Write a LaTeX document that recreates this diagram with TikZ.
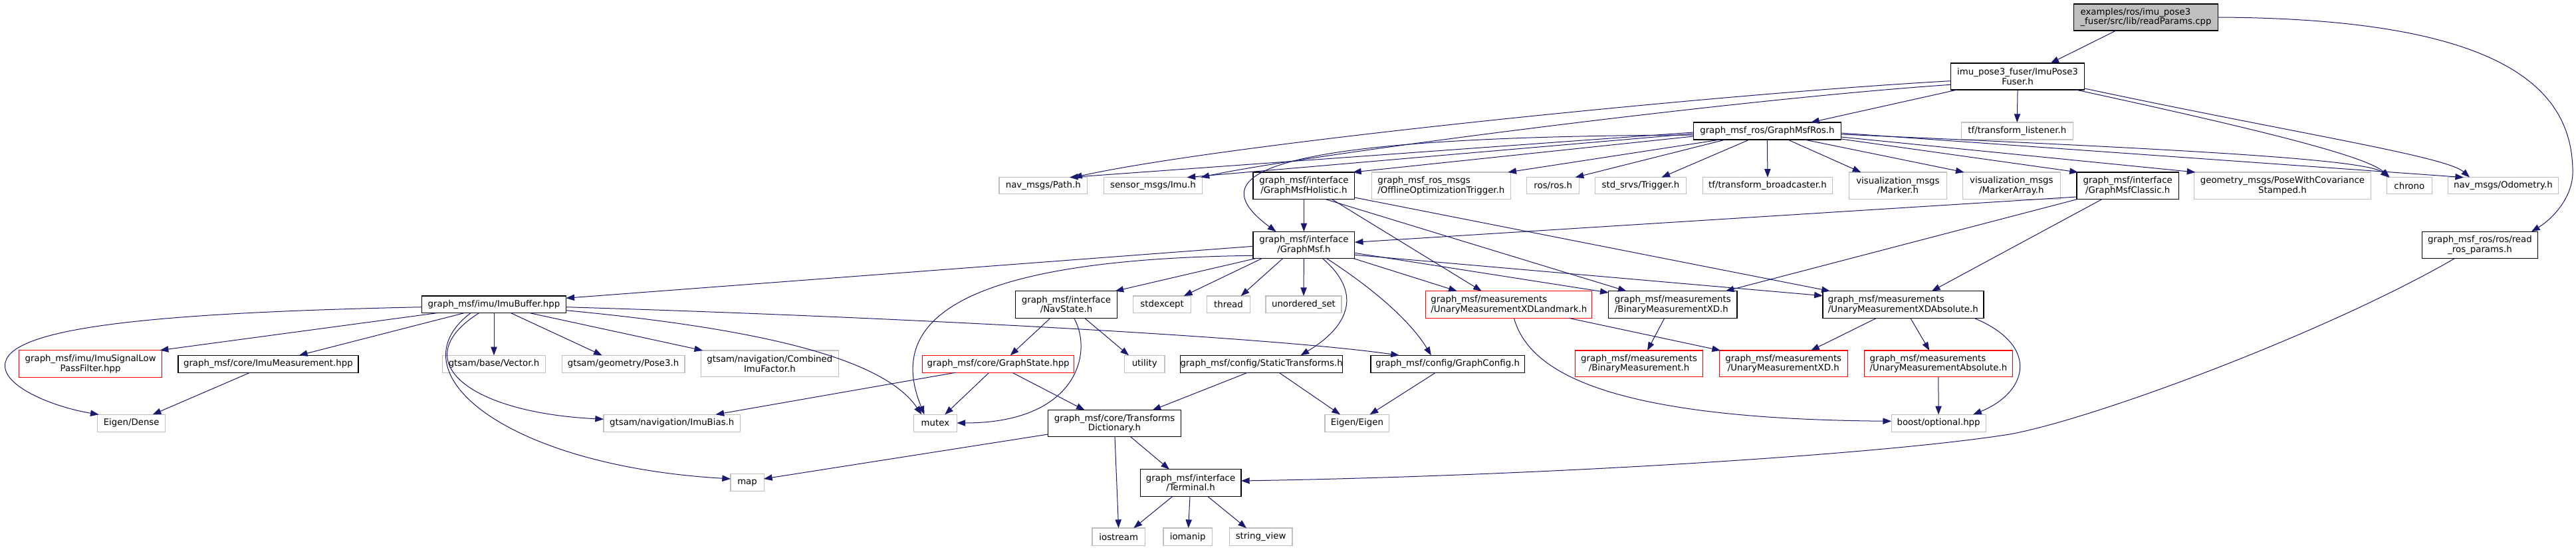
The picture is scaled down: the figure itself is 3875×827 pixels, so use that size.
\documentclass[tikz,border=0pt]{standalone}
\usepackage{fontspec}
\setmainfont{DejaVu Sans}
\usetikzlibrary{arrows.meta}
\definecolor{edgeblue}{HTML}{191970}
\definecolor{extgrey}{HTML}{BFBFBF}
\newcommand\gbox[7]{%
  \pgfmathsetmacro\gbcx{(#3+#4)/2}%
  \pgfmathsetmacro\gbcy{(#5+#6)/2}%
  \pgfmathsetmacro\gbw{(#4-#3)*0.75}%
  \pgfmathsetmacro\gbh{(#6-#5)*0.75}%
  \node[#2,minimum width=\gbw pt,minimum height=\gbh pt] (#1) at (\gbcx,\gbcy) {#7};}
\begin{document}
\begin{tikzpicture}[x=0.75pt,y=-0.75pt,
  every node/.style={font=\fontsize{10}{11}\selectfont, inner sep=0pt, outer sep=0pt, fill=white},
  docnode/.style={draw=black,line width=1pt},
  extnode/.style={draw=extgrey,line width=0.8pt},
  trnode/.style={draw=red,line width=0.8pt},
  rootnode/.style={draw=black,fill=extgrey,line width=1pt},
  two/.style={align=center},
  twol/.style={align=left},
  dep/.style={draw=edgeblue,line width=0.75pt,-{Triangle[length=9.5pt,width=7pt]}}]
\useasboundingbox (0,0) rectangle (3875,827);
\fill[white] (0,0) rectangle (3875,827);
% nodes
\gbox{root}{rootnode,twol}{3119.5}{3336.5}{6}{46}{examples/ros/imu\_pose3\\\_fuser/src/lib/readParams.cpp}
\gbox{imupose}{docnode,two}{2934.6}{3135.5}{95}{135}{imu\_pose3\_fuser/ImuPose3\\Fuser.h}
\gbox{rosnode}{docnode}{2547.4}{2769.4}{184}{210}{graph\_msf\_ros/GraphMsfRos.h}
\gbox{tfl}{extnode}{2950.5}{3118}{184}{210}{tf/transform\_listener.h}
\gbox{path}{extnode}{1503}{1635.6}{266.7}{291.7}{nav\_msgs/Path.h}
\gbox{imu}{extnode}{1660.5}{1808.4}{266.7}{291.7}{sensor\_msgs/Imu.h}
\gbox{holistic}{docnode,two}{1885}{2037.8}{259}{299.3}{graph\_msf/interface\\/GraphMsfHolistic.h}
\gbox{offline}{extnode,twol}{2063.3}{2272.4}{259}{299.3}{graph\_msf\_ros\_msgs\\/OfflineOptimizationTrigger.h}
\gbox{ros}{extnode}{2296.7}{2375.8}{266.7}{291.7}{ros/ros.h}
\gbox{trig}{extnode}{2399.4}{2536.5}{266.7}{291.7}{std\_srvs/Trigger.h}
\gbox{brd}{extnode}{2561.4}{2756.5}{266.7}{291.7}{tf/transform\_broadcaster.h}
\gbox{marker}{extnode,two}{2781.4}{2928.4}{259}{299.3}{visualization\_msgs\\/Marker.h}
\gbox{markerarr}{extnode,two}{2952.6}{3099}{259}{299.3}{visualization\_msgs\\/MarkerArray.h}
\gbox{classic}{docnode,two}{3123.9}{3277.5}{259}{299.3}{graph\_msf/interface\\/GraphMsfClassic.h}
\gbox{posecov}{extnode,two}{3300.4}{3566.4}{259}{299.3}{geometry\_msgs/PoseWithCovariance\\Stamped.h}
\gbox{chrono}{extnode}{3590.6}{3658}{266.7}{291.7}{chrono}
\gbox{odom}{extnode}{3682}{3848.8}{266.7}{291.7}{nav\_msgs/Odometry.h}
\gbox{graphmsf}{docnode,two}{1885}{2037.8}{348.3}{388.3}{graph\_msf/interface\\/GraphMsf.h}
\gbox{rrp}{docnode,two}{3643.5}{3817.4}{348.3}{388.3}{graph\_msf\_ros/ros/read\\\_ros\_params.h}
\gbox{imubuf}{docnode}{634.6}{851.4}{445}{470.7}{graph\_msf/imu/ImuBuffer.hpp}
\gbox{navstate}{docnode,two}{1527.5}{1680.5}{437.7}{478.3}{graph\_msf/interface\\/NavState.h}
\gbox{stdexc}{extnode}{1704.8}{1791.5}{445}{470.7}{stdexcept}
\gbox{thread}{extnode}{1815.7}{1880.2}{445}{470.7}{thread}
\gbox{uset}{extnode}{1904}{2018}{445}{470.7}{unordered\_set}
\gbox{landmark}{trnode,twol}{2144.8}{2394.8}{437.7}{478.3}{graph\_msf/measurements\\/UnaryMeasurementXDLandmark.h}
\gbox{binxd}{docnode,twol}{2419.7}{2612.9}{437.7}{478.3}{graph\_msf/measurements\\/BinaryMeasurementXD.h}
\gbox{xdabs}{docnode,twol}{2741.8}{2983.9}{437.7}{478.3}{graph\_msf/measurements\\/UnaryMeasurementXDAbsolute.h}
\gbox{lowpass}{trnode,two}{28.7}{243.6}{526.7}{567.3}{graph\_msf/imu/ImuSignalLow\\PassFilter.hpp}
\gbox{imumeas}{docnode}{267.9}{538.9}{534.3}{560.3}{graph\_msf/core/ImuMeasurement.hpp}
\gbox{vector}{extnode}{665.2}{820.8}{534.3}{560.3}{gtsam/base/Vector.h}
\gbox{pose3}{extnode}{845.1}{1030}{534.3}{560.3}{gtsam/geometry/Pose3.h}
\gbox{combined}{extnode,two}{1054.2}{1261.5}{527}{566.7}{gtsam/navigation/Combined\\ImuFactor.h}
\gbox{gstate}{trnode}{1387.8}{1615.5}{534.3}{560.3}{graph\_msf/core/GraphState.hpp}
\gbox{utility}{extnode}{1691.4}{1752}{534.3}{560.3}{utility}
\gbox{statict}{docnode}{1776.2}{2019}{534.3}{560.3}{graph\_msf/config/StaticTransforms.h}
\gbox{gconfig}{docnode}{2061.9}{2293.4}{534.3}{560.3}{graph\_msf/config/GraphConfig.h}
\gbox{binmeas}{trnode,two}{2369.3}{2561.9}{527}{566.7}{graph\_msf/measurements\\/BinaryMeasurement.h}
\gbox{unaryxd}{trnode,two}{2586.1}{2779.4}{527}{566.7}{graph\_msf/measurements\\/UnaryMeasurementXD.h}
\gbox{unaryabs}{trnode,twol}{2804.3}{3027.5}{527}{566.7}{graph\_msf/measurements\\/UnaryMeasurementAbsolute.h}
\gbox{eigdense}{extnode}{146.7}{248.7}{623.3}{649.3}{Eigen/Dense}
\gbox{imubias}{extnode}{908}{1113.5}{623.3}{649.3}{gtsam/navigation/ImuBias.h}
\gbox{mutex}{extnode}{1374.4}{1439.4}{623.3}{649.3}{mutex}
\gbox{tdict}{docnode,two}{1576.6}{1776.5}{616.7}{656.7}{graph\_msf/core/Transforms\\Dictionary.h}
\gbox{eigeigen}{extnode}{1993}{2089.9}{623.3}{649.3}{Eigen/Eigen}
\gbox{boost}{extnode}{2845.1}{2987}{623.3}{649.3}{boost/optional.hpp}
\gbox{map}{extnode}{1099}{1149.1}{712.7}{738.7}{map}
\gbox{terminal}{docnode,two}{1715.2}{1867}{705.7}{746.7}{graph\_msf/interface\\/Terminal.h}
\gbox{iostream}{extnode}{1643}{1722.4}{794}{820.7}{iostream}
\gbox{iomanip}{extnode}{1750}{1823.3}{794}{820.7}{iomanip}
\gbox{strview}{extnode}{1849.2}{1944}{794}{820.7}{string\_view}
% root
\draw[dep] ([shift={(63.5,40)}]root.north west) -- ([shift={(149.8,0)}]imupose.north west);
\draw[dep] (root.east) .. controls (3760,28) and (3872,130) .. (3870,262) .. controls (3868,300) and (3838,330) .. ([shift={(164.5,0)}]rrp.north west);
% imupose
\draw[dep] ([shift={(9.5,40)}]imupose.north west) -- ([shift={(176.6,0)}]rosnode.north west);
\draw[dep] (imupose.south) -- (tfl.north);
\draw[dep] ([shift={(0,26.7)}]imupose.north west) .. controls (2600,140) and (1850,215) .. ([shift={(112,0)}]path.north west);
\draw[dep] ([shift={(0,32.3)}]imupose.north west) .. controls (2600,150) and (1950,235) .. ([shift={(146,0)}]imu.north west);
\draw[dep] ([shift={(188,40)}]imupose.north west) .. controls (3400,195) and (3560,235) .. ([shift={(4,0)}]chrono.north west);
\draw[dep] ([shift={(201,38)}]imupose.north west) .. controls (3450,200) and (3680,235) .. ([shift={(33,0)}]odom.north west);
% rosnode
\draw[dep] ([shift={(0,15)}]rosnode.north west) -- ([shift={(106,0)}]path.north west);
\draw[dep] ([shift={(0,17)}]rosnode.north west) -- ([shift={(125,0)}]imu.north west);
\draw[dep] ([shift={(0,19)}]rosnode.north west) .. controls (1900,205) and (1800,260) .. ([shift={(34.5,0)}]graphmsf.north west);
\draw[dep] ([shift={(0,21)}]rosnode.north west) -- ([shift={(150,0)}]holistic.north west);
\draw[dep] ([shift={(40,26)}]rosnode.north west) -- ([shift={(205,0)}]offline.north west);
\draw[dep] ([shift={(48,26)}]rosnode.north west) -- ([shift={(73,0)}]ros.north west);
\draw[dep] ([shift={(84,26)}]rosnode.north west) -- ([shift={(100,0)}]trig.north west);
\draw[dep] (rosnode.south) -- (brd.north);
\draw[dep] ([shift={(142,26)}]rosnode.north west) -- ([shift={(18,0)}]marker.north west);
\draw[dep] ([shift={(167,26)}]rosnode.north west) -- ([shift={(2,0)}]markerarr.north west);
\draw[dep] ([shift={(222,25)}]rosnode.north west) -- ([shift={(2,0)}]classic.north west);
\draw[dep] ([shift={(222,22)}]rosnode.north west) -- ([shift={(2,0)}]posecov.north west);
\draw[dep] ([shift={(222,18)}]rosnode.north west) .. controls (3300,225) and (3560,240) .. ([shift={(3,0)}]chrono.north west);
\draw[dep] ([shift={(222,16)}]rosnode.north west) -- ([shift={(24,0)}]odom.north west);
% holistic
\draw[dep] (holistic.south) -- (graphmsf.north);
\draw[dep] ([shift={(118,40.3)}]holistic.north west) -- ([shift={(84,0)}]landmark.north west);
\draw[dep] ([shift={(108,40.3)}]holistic.north west) -- ([shift={(27,0)}]binxd.north west);
\draw[dep] ([shift={(152.8,38)}]holistic.north west) -- ([shift={(11,0)}]xdabs.north west);
% classic
\draw[dep] ([shift={(0,37)}]classic.north west) -- ([shift={(152.8,16)}]graphmsf.north west);
\draw[dep] ([shift={(2,40.3)}]classic.north west) -- ([shift={(176,0)}]binxd.north west);
\draw[dep] ([shift={(38.6,40.3)}]classic.north west) -- ([shift={(164,0)}]xdabs.north west);
% graphmsf
\draw[dep] ([shift={(0,22)}]graphmsf.north west) -- ([shift={(216.8,3.3)}]imubuf.north west);
\draw[dep] ([shift={(5,40)}]graphmsf.north west) -- ([shift={(150,0)}]navstate.north west);
\draw[dep] ([shift={(14,40)}]graphmsf.north west) -- ([shift={(76,0)}]stdexc.north west);
\draw[dep] ([shift={(45,40)}]graphmsf.north west) -- ([shift={(51,0)}]thread.north west);
\draw[dep] (graphmsf.south) -- (uset.north);
\draw[dep] ([shift={(104,40)}]graphmsf.north west) .. controls (2050,440) and (2030,490) .. ([shift={(181,0)}]statict.north west);
\draw[dep] ([shift={(110,40)}]graphmsf.north west) .. controls (2060,430) and (2120,480) .. ([shift={(91,0)}]gconfig.north west);
\draw[dep] ([shift={(0,36)}]graphmsf.north west) .. controls (1400,390) and (1340,500) .. ([shift={(16,0)}]mutex.north west);
\draw[dep] ([shift={(150,40)}]graphmsf.north west) -- ([shift={(47,0)}]landmark.north west);
\draw[dep] ([shift={(152.8,32)}]graphmsf.north west) -- ([shift={(0,2.3)}]binxd.north west);
\draw[dep] ([shift={(152.8,35)}]graphmsf.north west) -- ([shift={(0,7)}]xdabs.north west);
% imubuf
\draw[dep] ([shift={(0,16.7)}]imubuf.north west) .. controls (250,470) and (20,490) .. (8,545) .. controls (0,580) and (80,612) .. ([shift={(2,0)}]eigdense.north west);
\draw[dep] ([shift={(22.4,25.7)}]imubuf.north west) -- ([shift={(212,0)}]lowpass.north west);
\draw[dep] ([shift={(63.4,25.7)}]imubuf.north west) -- ([shift={(182,0)}]imumeas.north west);
\draw[dep] (imubuf.south) -- (vector.north);
\draw[dep] ([shift={(134,25.7)}]imubuf.north west) -- ([shift={(60.6,0)}]pose3.north west);
\draw[dep] ([shift={(162.6,25.7)}]imubuf.north west) -- ([shift={(3,0)}]combined.north west);
\draw[dep] ([shift={(73.4,25.7)}]imubuf.north west) .. controls (590,560) and (760,700) .. ([shift={(0,7.3)}]map.north west);
\draw[dep] ([shift={(86,25.7)}]imubuf.north west) .. controls (610,540) and (700,620) .. ([shift={(0,7)}]imubias.north west);
\draw[dep] ([shift={(216.8,21.7)}]imubuf.north west) .. controls (1150,495) and (1330,540) .. ([shift={(12,0)}]mutex.north west);
\draw[dep] ([shift={(216.8,16.7)}]imubuf.north west) .. controls (1300,475) and (1900,505) .. ([shift={(43,0)}]gconfig.north west);
% navstate
\draw[dep] ([shift={(52.5,40.6)}]navstate.north west) -- ([shift={(132,0)}]gstate.north west);
\draw[dep] ([shift={(88,40.6)}]navstate.north west) .. controls (1645,530) and (1620,636) .. ([shift={(65,12.7)}]mutex.north west);
\draw[dep] ([shift={(104,40.6)}]navstate.north west) -- ([shift={(6.6,0)}]utility.north west);
% gstate
\draw[dep] ([shift={(49,26)}]gstate.north west) -- ([shift={(168.5,0)}]imubias.north west);
\draw[dep] ([shift={(100,26)}]gstate.north west) -- ([shift={(47,0)}]mutex.north west);
\draw[dep] ([shift={(135,26)}]gstate.north west) -- ([shift={(55,0)}]tdict.north west);
% config and measurement
\draw[dep] ([shift={(101,26)}]statict.north west) -- ([shift={(157,0)}]tdict.north west);
\draw[dep] ([shift={(148.6,26)}]statict.north west) -- ([shift={(23,0)}]eigeigen.north west);
\draw[dep] ([shift={(97.6,26)}]gconfig.north west) -- ([shift={(67.6,0)}]eigeigen.north west);
\draw[dep] ([shift={(108,26)}]imumeas.north west) -- ([shift={(83,0)}]eigdense.north west);
% tdict and terminal
\draw[dep] ([shift={(0,36.3)}]tdict.north west) -- ([shift={(50,7.3)}]map.north west);
\draw[dep] ([shift={(100.4,40)}]tdict.north west) -- ([shift={(39.6,0)}]iostream.north west);
\draw[dep] ([shift={(124,40)}]tdict.north west) -- ([shift={(43.8,0)}]terminal.north west);
\draw[dep] ([shift={(48.3,41)}]terminal.north west) -- ([shift={(62.4,0)}]iostream.north west);
\draw[dep] ([shift={(74.8,41)}]terminal.north west) -- ([shift={(37.6,0)}]iomanip.north west);
\draw[dep] ([shift={(101.8,41)}]terminal.north west) -- ([shift={(25.8,0)}]strview.north west);
\draw[dep] ([shift={(49.5,40)}]rrp.north west) .. controls (3500,500) and (3150,630) .. (3023,653) .. controls (2820,685) and (2300,716) .. ([shift={(151.8,17.3)}]terminal.north west);
% measurements
\draw[dep] ([shift={(215,40.6)}]landmark.north west) -- ([shift={(2,0)}]unaryxd.north west);
\draw[dep] ([shift={(132.6,40.6)}]landmark.north west) .. controls (2300,560) and (2420,630) .. ([shift={(0,10)}]boost.north west);
\draw[dep] ([shift={(84.2,40.6)}]binxd.north west) -- ([shift={(108.7,0)}]binmeas.north west);
\draw[dep] ([shift={(81,40.6)}]xdabs.north west) -- ([shift={(138,0)}]unaryxd.north west);
\draw[dep] ([shift={(132,40.6)}]xdabs.north west) -- ([shift={(98,0)}]unaryabs.north west);
\draw[dep] ([shift={(227.7,40.6)}]xdabs.north west) .. controls (3070,520) and (3050,590) .. ([shift={(123,0)}]boost.north west);
\draw[dep] (unaryabs.south) -- (boost.north);
\end{tikzpicture}
\end{document}
